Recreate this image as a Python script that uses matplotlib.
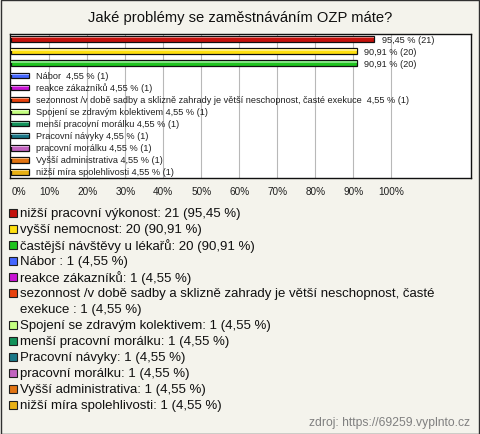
import textwrap
import matplotlib
matplotlib.use("Agg")
import matplotlib.pyplot as plt
from matplotlib.colors import to_rgb
from matplotlib.patches import Rectangle

plt.rcParams['font.family'] = ['Liberation Sans', 'DejaVu Sans']

TITLE = "Jaké problémy se zaměstnáváním OZP máte?"
SOURCE = "zdroj: https://69259.vyplnto.cz"

answers = [
    "nižší pracovní výkonost",
    "vyšší nemocnost",
    "častější návštěvy u lékařů",
    "Nábor ",
    "reakce zákazníků",
    "sezonnost /v době sadby a sklizně zahrady je větší neschopnost, časté exekuce ",
    "Spojení se zdravým kolektivem",
    "menší pracovní morálku",
    "Pracovní návyky",
    "pracovní morálku",
    "Vyšší administrativa",
    "nižší míra spolehlivosti",
]
counts = [21, 20, 20, 1, 1, 1, 1, 1, 1, 1, 1, 1]
percents = [95.45, 90.91, 90.91, 4.55, 4.55, 4.55, 4.55, 4.55, 4.55, 4.55, 4.55, 4.55]
colors = ["#c4120c", "#ffe010", "#1ec41e", "#4466ff", "#c814d4", "#e8420e",
          "#c4ff80", "#12925a", "#1a7888", "#c264c0", "#e27412", "#e8b014"]
ticks = [0, 10, 20, 30, 40, 50, 60, 70, 80, 90, 100]

W, H = 480, 435


def fmt(p):
    return ("%.2f" % p).replace(".", ",")


def lighter(c, k=0.45):
    r, g, b = to_rgb(c)
    return (r + (1 - r) * k, g + (1 - g) * k, b + (1 - b) * k)


fig = plt.figure(figsize=(W / 100, H / 100), dpi=100)
fig.patch.set_facecolor("#f4f3ec")
fig.patches.append(Rectangle((0.5 / W, 0.5 / H), 1 - 1.5 / W, 1 - 1.5 / H, transform=fig.transFigure,
                             fill=False, edgecolor="#303030", linewidth=1))

fig.text(240 / W, 1 - 18 / H, TITLE, ha="center", va="center", fontsize=10.6, color="#101010")

ax = fig.add_axes([10 / W, 1 - 179 / H, 461 / W, 144 / H])
ax.set_facecolor("white")
ax.set_xlim(-0.34, 121)
ax.set_ylim(11.5, -0.42)
for t in ticks[1:]:
    ax.axvline(t, color="#b8b8b8", linewidth=0.8, zorder=0)

y = list(range(len(answers)))
ax.barh(y, percents, height=0.46, color=colors, edgecolor="#101010", linewidth=0.9, zorder=2)
# light top stripe for the 3d look
ax.barh([i - 0.1 for i in y], percents, height=0.1, color=[lighter(c) for c in colors],
        linewidth=0, zorder=3)

for i in y:
    if percents[i] > 50:
        txt = "%s %% (%d)" % (fmt(percents[i]), counts[i])
    else:
        txt = "%s %s %% (%d)" % (answers[i], fmt(percents[i]), counts[i])
    ax.annotate(txt, (percents[i], i), xytext=(5.5, 0), textcoords="offset points",
                va="center", ha="left", fontsize=6.6, color="#202020")

ax.set_xticks(ticks)
ax.set_xticklabels(["%d%%" % t for t in ticks], fontsize=7.2, color="#202020")
ax.get_xticklabels()[0].set_horizontalalignment("left")
ax.tick_params(axis="x", length=0, pad=6)
ax.set_yticks([])
for s in ax.spines.values():
    s.set_color("#101010")
    s.set_linewidth(1)

# legend below the chart
row = 0
for name, c, p, col in zip(answers, counts, percents, colors):
    label = "%s: %d (%s %%)" % (name, c, fmt(p))
    lines = textwrap.wrap(label, 70)
    ypx = 214 + row * 16
    fig.patches.append(Rectangle((8.5 / W, 1 - (ypx + 4) / H), 8 / W, 8 / H, transform=fig.transFigure,
                                 facecolor=col, edgecolor="#202020", linewidth=0.8))
    for k, line in enumerate(lines):
        fig.text(20 / W, 1 - (ypx + 16 * k) / H, line, ha="left", va="center",
                 fontsize=9.5, color="#101010")
    row += len(lines)

fig.text(470 / W, 1 - 423 / H, SOURCE, ha="right", va="center", fontsize=8.7, color="#808080")

fig.savefig("out.png", dpi=100, facecolor=fig.get_facecolor())
